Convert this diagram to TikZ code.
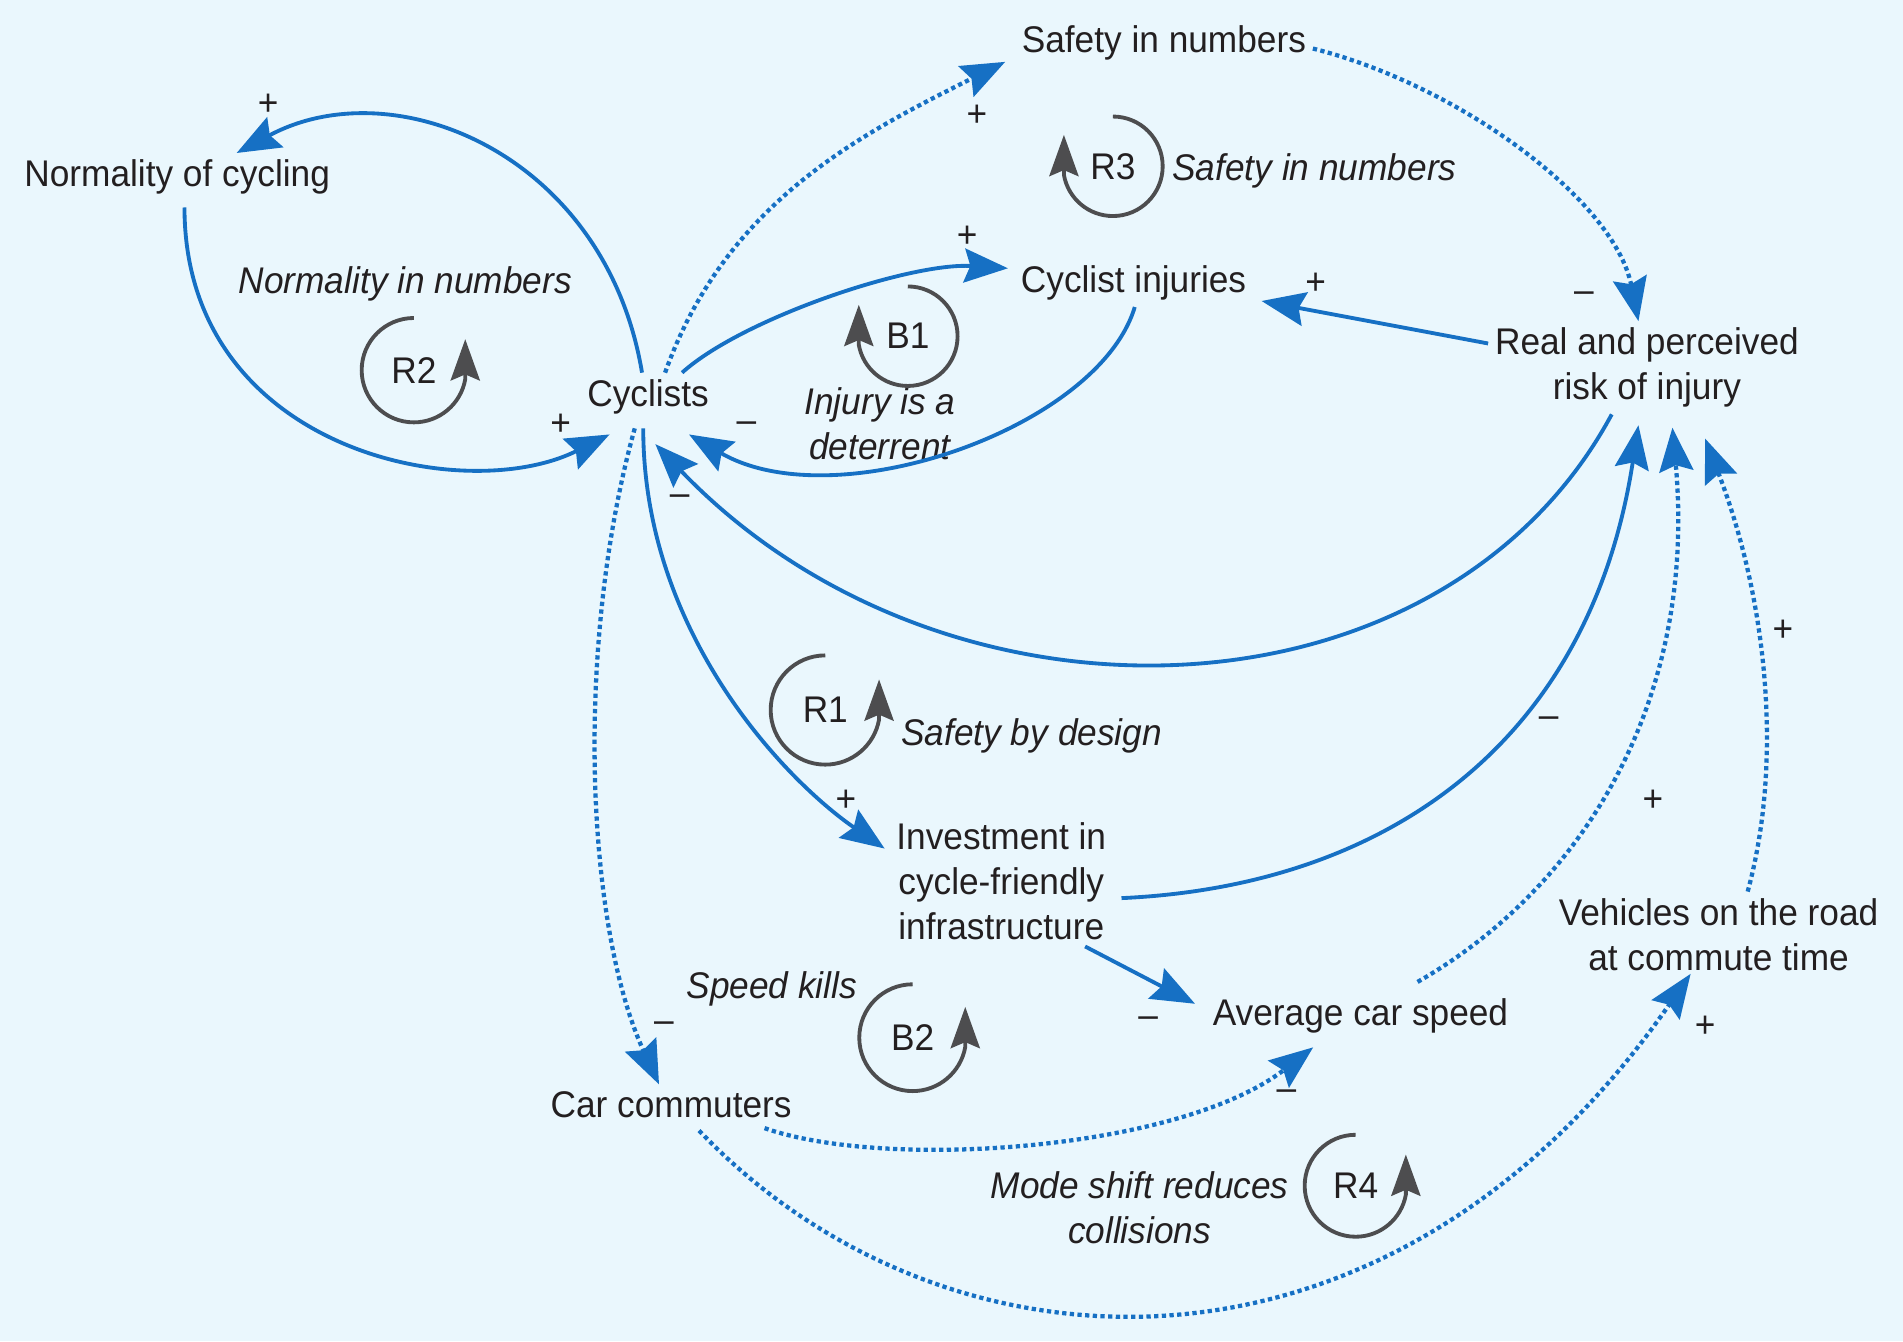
\documentclass[tikz,border=0pt]{standalone}
\usepackage{fontspec}
\setmainfont[FakeStretch=0.95]{Liberation Sans}
\usepackage{xcolor}
\usepackage{tikz}
\usetikzlibrary{arrows.meta}
\definecolor{cldblue}{RGB}{22, 112, 196}
\definecolor{cldgray}{RGB}{77, 77, 79}
\definecolor{cldtext}{RGB}{35, 31, 32}
\definecolor{cldback}{RGB}{234, 247, 253}

\begin{document}
\begin{tikzpicture}[x=1mm, y=1mm, font=\fontsize{8.7pt}{10.5pt}\selectfont,
            var/.style={inner sep=0.5mm, text=cldtext, align=center},
            loopname/.style={inner sep=0pt, text=cldtext, font=\fontsize{8.7pt}{10.5pt}\selectfont\itshape, align=center},
            loopid/.style={inner sep=0pt, text=cldtext},
            pol/.style={inner sep=0pt, text=cldtext},
            link/.style={draw=cldblue, line width=0.9pt, -{Stealth[length=3.6mm, width=2.8mm, inset=0.5mm]}},
            dotlink/.style={link, line width=1pt, dash pattern=on 1pt off 0.8pt},
            loopmark/.style={draw=cldgray, line width=0.9pt, -{Stealth[length=3.4mm, width=2.4mm, inset=0.5mm]}}]
            \path[use as bounding box, fill=cldback] (0,0) rectangle (156.8,-110.5);

            % Main components
            \node[var] (normality) at (14.6,-14.6) {Normality of cycling};
            \node[var] (safety) at (95.9,-3.5) {Safety in numbers};
            \node[var] (injuries) at (93.4,-23.3) {Cyclist injuries};
            \node[var] (risk) at (135.7,-30.3) {Real and perceived\\risk of injury};
            \node[var] (cyclists) at (53.4,-32.7) {Cyclists};
            \node[var] (invest) at (82.5,-72.6) {Investment in\\cycle-friendly\\infrastructure};
            \node[var] (avg) at (112.1,-83.7) {Average car speed};
            \node[var] (vehicles) at (141.6,-77.0) {Vehicles on the road\\at commute time};
            \node[var] (car) at (55.3,-91.0) {Car commuters};

            % Loop names
            \node[loopname] (nnum) at (33.4,-23.4) {Normality in numbers};
            \node[loopname] (snum) at (108.3,-14.1) {Safety in numbers};
            \node[loopname] (deter) at (72.5,-34.9) {Injury is a\\deterrent};
            \node[loopname] (design) at (85.0,-60.6) {Safety by design};
            \node[loopname] (kills) at (63.6,-81.5) {Speed kills};
            \node[loopname] (shift) at (93.9,-99.5) {Mode shift reduces\\collisions};

            % Loop markers
            \node[loopid] (r2) at (34.1,-30.5) {R2};
            \node[loopid] (b1) at (74.8,-27.7) {B1};
            \node[loopid] (r3) at (91.7,-13.7) {R3};
            \node[loopid] (r1) at (68.0,-58.5) {R1};
            \node[loopid] (b2) at (75.2,-85.5) {B2};
            \node[loopid] (r4) at (111.7,-97.7) {R4};
            \draw[loopmark] (r2.center) ++(90:4.3mm) arc[start angle=90, end angle=350, radius=4.3mm] -- ++(0,3.3);
            \draw[loopmark] (b1.center) ++(90:4.1mm) arc[start angle=90, end angle=-170, radius=4.1mm] -- ++(0,3.3);
            \draw[loopmark] (r3.center) ++(90:4.1mm) arc[start angle=90, end angle=-170, radius=4.1mm] -- ++(0,3.3);
            \draw[loopmark] (r1.center) ++(90:4.5mm) arc[start angle=90, end angle=350, radius=4.5mm] -- ++(0,3.3);
            \draw[loopmark] (b2.center) ++(90:4.4mm) arc[start angle=90, end angle=350, radius=4.4mm] -- ++(0,3.3);
            \draw[loopmark] (r4.center) ++(90:4.2mm) arc[start angle=90, end angle=350, radius=4.2mm] -- ++(0,3.3);

            % Connections
            \draw[link] ([xshift=-0.5mm]cyclists.north) .. controls +(-3,18) and +(13,7) .. ([xshift=4.9mm]normality.north);
            \draw[link] ([shift={(0.6,-0.5)}]normality.south) .. controls +(0,-20) and +(-12,-6) .. ([shift={(2.4,-1.1)}]cyclists.south west);
            \draw[dotlink] ([xshift=1.4mm]cyclists.north) .. controls +(5,14) and +(-12,-6) .. ([shift={(-0.8,0.4)}]safety.south west);
            \draw[link] ([xshift=2.8mm]cyclists.north) .. controls +(5,4.5) and +(-8,0.5) .. ([shift={(-0.5,-0.8)}]injuries.north west);
            \draw[link] ([xshift=0.1mm]injuries.south) .. controls +(-3,-10) and +(12,-7) .. ([shift={(-2.2,-1.1)}]cyclists.south east);
            \draw[link] ([yshift=2mm]risk.west) -- ([shift={(0.7,-1.5)}]injuries.east);
            \draw[dotlink] ([yshift=-0.5mm]safety.east) .. controls +(12,-3) and +(-2,10) .. ([xshift=-0.7mm]risk.north);
            \draw[link] ([xshift=-2.9mm]risk.south) .. controls +(-14,-26) and +(24,-25) .. ([shift={(0.6,-1.9)}]cyclists.south);
            \draw[link] ([shift={(-0.4,-0.6)}]cyclists.south) .. controls +(0,-17) and +(-8,5.5) .. ([shift={(-0.4,-2.7)}]invest.north west);
            \draw[link] ([shift={(0.7,-1.4)}]invest.east) .. controls +(22,1) and +(-4,-26) .. ([shift={(-0.7,-0.9)}]risk.south);
            \draw[link] ([xshift=-2.3mm]invest.south east) -- ([shift={(-0.9,-1)}]avg.north west);
            \draw[dotlink] ([shift={(4.7,0.8)}]avg.north) .. controls +(14,8) and +(2,-22) .. ([shift={(2.1,-1.1)}]risk.south);
            \draw[dotlink] ([xshift=2.4mm]vehicles.north) .. controls +(3,11) and +(5,-13) .. ([shift={(4.8,-2)}]risk.south);
            \draw[dotlink] ([shift={(-1.1,-0.6)}]cyclists.south) .. controls +(-5,-18) and +(-6,13) .. ([xshift=-1mm]car.north);
            \draw[dotlink] ([shift={(-2.8,-0.3)}]car.south east) .. controls +(10,-3.5) and +(-11,-8.5) .. ([shift={(-3.9,-0.6)}]avg.south);
            \draw[dotlink] ([shift={(2.3,-0.5)}]car.south) .. controls +(20,-21) and +(-25,-36) .. ([shift={(-2.3,0.3)}]vehicles.south);

            % Polarities
            \node[pol] (p1) at (22.1,-8.6) {+};
            \node[pol] (p2) at (46.2,-35.0) {+};
            \node[pol] (p3) at (80.5,-9.5) {+};
            \node[pol] (p4) at (79.7,-19.5) {+};
            \node[pol] (p5) at (108.4,-23.4) {+};
            \node[pol] (p6) at (130.5,-24.5) {–};
            \node[pol] (p7) at (61.5,-35.2) {–};
            \node[pol] (p8) at (56.0,-41.2) {–};
            \node[pol] (p9) at (69.7,-66.0) {+};
            \node[pol] (p10) at (127.6,-59.5) {–};
            \node[pol] (p11) at (136.2,-66.0) {+};
            \node[pol] (p12) at (146.9,-52.0) {+};
            \node[pol] (p13) at (54.7,-84.6) {–};
            \node[pol] (p14) at (94.6,-84.2) {–};
            \node[pol] (p15) at (106.0,-90.2) {–};
            \node[pol] (p16) at (140.5,-84.6) {+};
        \end{tikzpicture}
\end{document}
